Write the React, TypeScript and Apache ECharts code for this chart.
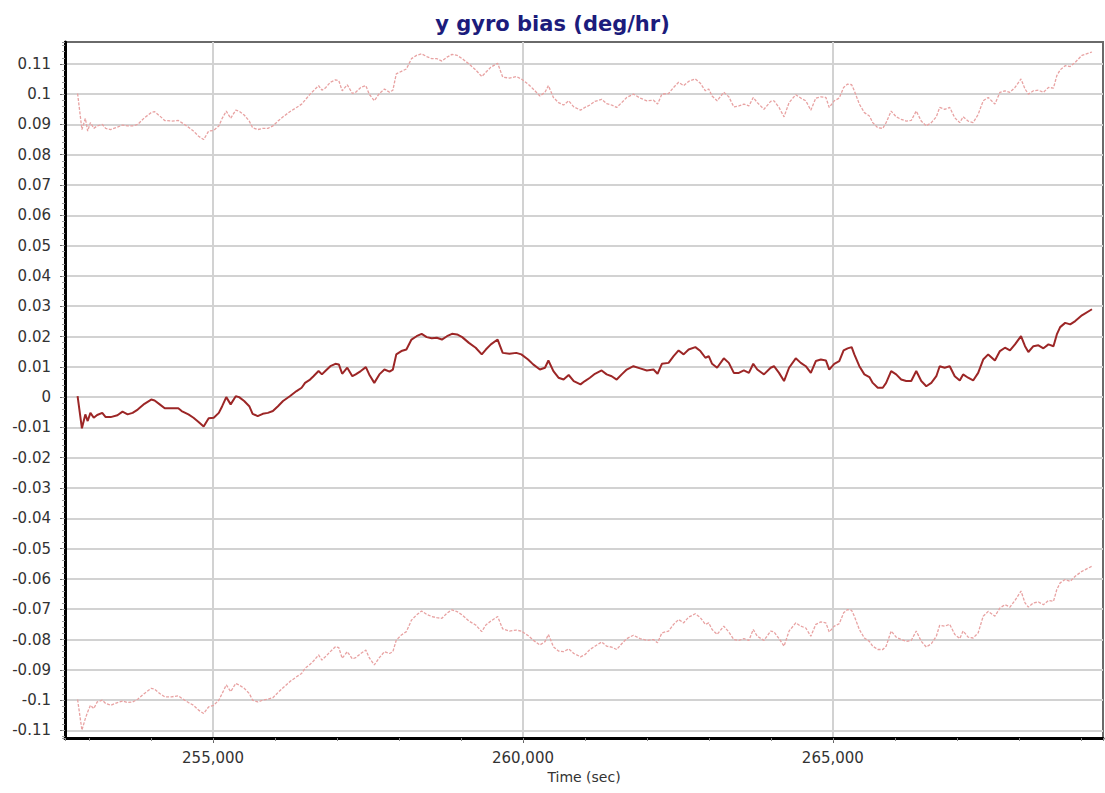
import React, { useEffect, useRef } from "react";
import * as echarts from "echarts";

const timeSec = [
  252814, 252884, 252939, 252977, 253021, 253075, 253130, 253212, 253267, 253348,
  253457, 253539, 253621, 253702, 253784, 253893, 254002, 254057, 254139, 254220,
  254329, 254439, 254493, 254602, 254684, 254766, 254848, 254929, 255011, 255093,
  255147, 255213, 255284, 255366, 255420, 255502, 255584, 255638, 255720, 255802,
  255884, 255965, 256047, 256129, 256238, 256347, 256429, 256484, 256565, 256620,
  256702, 256756, 256811, 256892, 256974, 257029, 257083, 257165, 257247, 257301,
  257383, 257465, 257519, 257601, 257683, 257765, 257847, 257901, 257956, 258038,
  258119, 258201, 258283, 258365, 258447, 258528, 258610, 258692, 258774, 258855,
  258937, 259019, 259128, 259237, 259335, 259401, 259482, 259591, 259673, 259782,
  259892, 259973, 260082, 260164, 260273, 260355, 260410, 260491, 260573, 260655,
  260737, 260819, 260928,
  260999, 261080, 261161, 261269, 261350, 261431, 261512, 261593, 261674, 261782,
  261890, 261998, 262106, 262171, 262241, 262349, 262430, 262511, 262592, 262673,
  262781, 262862, 262943, 262997, 263051, 263132, 263240, 263321, 263402, 263483,
  263564, 263645, 263715, 263780, 263888, 263996, 264050, 264131, 264212, 264293,
  264401, 264482, 264563, 264644, 264725, 264806, 264887, 264941, 265022, 265103,
  265173, 265238, 265303, 265346, 265427, 265508, 265589, 265643, 265724, 265805,
  265859, 265940, 266021, 266102, 266183, 266264, 266345, 266426, 266507, 266588,
  266669, 266723, 266804, 266885, 266966, 267047, 267101, 267182, 267263, 267344,
  267425, 267506, 267614, 267695, 267776, 267857, 267938, 268035, 268100, 268154,
  268235, 268316, 268397, 268478, 268559, 268613, 268667, 268748, 268829, 268910,
  269018, 269180,
];

const biasEstimate = [
  0.0003, -0.0103, -0.0057, -0.0079, -0.0052, -0.0068, -0.0059, -0.0052, -0.0066, -0.0066,
  -0.006, -0.0048, -0.0057, -0.0052, -0.0041, -0.0022, -0.0008, -0.0011, -0.0024, -0.0037,
  -0.0037, -0.0037, -0.0046, -0.0057, -0.0068, -0.0082, -0.0097, -0.007, -0.0068, -0.0052,
  -0.003, 0.0, -0.0024, 0.0003, 0.0, -0.0013, -0.003, -0.0055, -0.0063, -0.0055,
  -0.0052, -0.0046, -0.003, -0.0013, 0.0003, 0.002, 0.0031, 0.0047, 0.0058, 0.0069,
  0.0086, 0.0075, 0.0086, 0.0102, 0.011, 0.0108, 0.0077, 0.0097, 0.0069, 0.0075,
  0.0086, 0.0099, 0.0075, 0.0047, 0.0075, 0.0091, 0.0084, 0.0091, 0.0141, 0.0152,
  0.0157, 0.019, 0.0201, 0.0209, 0.0198, 0.0194, 0.0196, 0.019, 0.0201, 0.0209,
  0.0207, 0.0198, 0.0179, 0.0163, 0.0141, 0.0157, 0.0174, 0.019, 0.0146, 0.0143,
  0.0146, 0.0141, 0.0124, 0.0108, 0.0091, 0.0097, 0.0121, 0.0086, 0.0064, 0.0058,
  0.0073, 0.0053, 0.0042,
  0.0053, 0.0064, 0.0077, 0.0088, 0.0075, 0.0069, 0.0058, 0.0075, 0.0091, 0.0102,
  0.0095, 0.0088, 0.0091, 0.0077, 0.011, 0.0113, 0.0135, 0.0154, 0.0141, 0.0157,
  0.0165, 0.0152, 0.013, 0.0135, 0.011, 0.0097, 0.0128, 0.0113, 0.008, 0.008,
  0.0088, 0.008, 0.011, 0.0091, 0.0075, 0.0097, 0.0102, 0.008, 0.0053, 0.0097,
  0.0128, 0.0113, 0.0102, 0.008, 0.0119, 0.0124, 0.0121, 0.0091, 0.011, 0.0119,
  0.0154, 0.0161, 0.0165, 0.0141, 0.0102, 0.0075, 0.0066, 0.0047, 0.0031, 0.0031,
  0.0047, 0.0086, 0.0075, 0.0058, 0.0053, 0.0053, 0.0086, 0.0053, 0.0036, 0.0047,
  0.0069, 0.0102, 0.0097, 0.0102, 0.0069, 0.0055, 0.0075, 0.0064, 0.0055, 0.008,
  0.0124, 0.0141, 0.0121, 0.0152, 0.0163, 0.0154, 0.0174, 0.0201, 0.0168, 0.0149,
  0.0168, 0.0171, 0.0161, 0.0174, 0.0168, 0.0207, 0.0231, 0.0245, 0.024, 0.0251,
  0.027, 0.029,
];

const upperBound = [
  0.1002, 0.0883, 0.092, 0.0878, 0.0906, 0.0887, 0.0895, 0.09, 0.0887, 0.0883,
  0.0891, 0.0898, 0.0895, 0.0895, 0.09, 0.0922, 0.0939, 0.0942, 0.0928, 0.0913,
  0.0911, 0.0913, 0.0906, 0.0891, 0.0878, 0.0861, 0.085, 0.0878, 0.088, 0.0895,
  0.092, 0.0944, 0.092, 0.0947, 0.0944, 0.0931, 0.0911, 0.0889, 0.0883, 0.0887,
  0.0887, 0.0895, 0.0911, 0.0925, 0.0942, 0.0956, 0.0967, 0.098, 0.1, 0.1011,
  0.1028, 0.1013, 0.102, 0.1039, 0.1047, 0.1044, 0.1011, 0.1031, 0.1002, 0.1006,
  0.1022, 0.1028, 0.1, 0.0978, 0.1002, 0.1017, 0.1006, 0.1013, 0.1067, 0.1075,
  0.1083, 0.1117, 0.1128, 0.1133, 0.1124, 0.1117, 0.1117, 0.1109, 0.1122, 0.1131,
  0.1128, 0.1117, 0.11, 0.108, 0.1058, 0.1072, 0.1089, 0.1102, 0.1056, 0.1053,
  0.1058, 0.105, 0.1033, 0.1017, 0.0994, 0.1006, 0.1028, 0.0989, 0.0972, 0.0964,
  0.0978, 0.0958, 0.0947,
  0.0956, 0.0964, 0.0976, 0.0983, 0.0969, 0.0964, 0.0956, 0.0972, 0.0989, 0.1,
  0.0987, 0.0978, 0.098, 0.0967, 0.1, 0.1002, 0.1022, 0.1039, 0.1028, 0.1042,
  0.105, 0.1036, 0.1011, 0.1017, 0.0994, 0.0978, 0.1006, 0.0991, 0.0958, 0.0961,
  0.0967, 0.0961, 0.0989, 0.0972, 0.095, 0.0976, 0.0978, 0.0956, 0.0925, 0.0972,
  0.0998, 0.0987, 0.0978, 0.0947, 0.0987, 0.0991, 0.0989, 0.0956, 0.0978, 0.0987,
  0.1022, 0.1033, 0.1031, 0.1011, 0.0967, 0.0939, 0.0928, 0.0906, 0.0889, 0.0887,
  0.0906, 0.0944, 0.0925, 0.0917, 0.0911, 0.0913, 0.0944, 0.0911, 0.0895, 0.0906,
  0.0925, 0.0956, 0.095, 0.0956, 0.0922, 0.0906, 0.0925, 0.0911, 0.0906, 0.0933,
  0.0978, 0.0989, 0.0967, 0.1006, 0.1011, 0.1006, 0.1022, 0.105, 0.1017, 0.1,
  0.1011, 0.1013, 0.1006, 0.1022, 0.102, 0.1061, 0.108, 0.1094, 0.1091, 0.1105,
  0.1128, 0.1139,
];

const lowerBound = [
  -0.0998, -0.1099, -0.1061, -0.1039, -0.1017, -0.1028, -0.1006, -0.1, -0.1011, -0.1017,
  -0.1008, -0.1003, -0.1008, -0.1006, -0.0997, -0.0978, -0.0961, -0.0964, -0.0978, -0.0989,
  -0.0989, -0.0986, -0.0994, -0.1008, -0.1017, -0.1033, -0.1044, -0.1022, -0.1017, -0.1,
  -0.0978, -0.095, -0.0972, -0.0945, -0.095, -0.0961, -0.0978, -0.1, -0.1006, -0.1,
  -0.0997, -0.0992, -0.0975, -0.0959, -0.0939, -0.0923, -0.0912, -0.0895, -0.0882, -0.0871,
  -0.0851, -0.0868, -0.0857, -0.084, -0.0824, -0.0827, -0.0862, -0.084, -0.0864, -0.086,
  -0.0846, -0.0835, -0.086, -0.0884, -0.086, -0.084, -0.0846, -0.084, -0.0802, -0.0785,
  -0.0774, -0.0736, -0.0719, -0.0706, -0.0717, -0.0724, -0.0728, -0.073, -0.0713, -0.0702,
  -0.0708, -0.0719, -0.0739, -0.0752, -0.0774, -0.0752, -0.0739, -0.0724, -0.0765, -0.0772,
  -0.0769, -0.0772, -0.0787, -0.0802, -0.0818, -0.0807, -0.0783, -0.0824, -0.0838, -0.084,
  -0.0831, -0.0846, -0.0857,
  -0.085, -0.0833, -0.0822, -0.0808, -0.0822, -0.0825, -0.0833, -0.0814, -0.0797, -0.0786,
  -0.0797, -0.0803, -0.08, -0.0811, -0.0778, -0.0772, -0.075, -0.0734, -0.0745, -0.0726,
  -0.0715, -0.0728, -0.075, -0.0745, -0.0767, -0.0783, -0.0756, -0.0775, -0.08, -0.0803,
  -0.0797, -0.0803, -0.0767, -0.0789, -0.0803, -0.0772, -0.0775, -0.0797, -0.0822, -0.0772,
  -0.0745, -0.0756, -0.0762, -0.0789, -0.075, -0.0742, -0.0745, -0.0775, -0.0756, -0.0748,
  -0.0712, -0.0701, -0.0704, -0.0723, -0.0767, -0.0795, -0.0806, -0.0822, -0.0833, -0.0833,
  -0.0822, -0.0772, -0.0792, -0.08, -0.0806, -0.0803, -0.0772, -0.0806, -0.0825, -0.0814,
  -0.0789, -0.0753, -0.0756, -0.075, -0.0783, -0.0797, -0.0772, -0.0792, -0.0795, -0.0778,
  -0.0723, -0.0707, -0.0723, -0.0696, -0.0685, -0.0693, -0.0671, -0.064, -0.0679, -0.0693,
  -0.0679, -0.0676, -0.0685, -0.0671, -0.0674, -0.0635, -0.0613, -0.0602, -0.0608, -0.0591,
  -0.0575, -0.0558,
];

const X_MIN = 252611;
const X_MAX = 269358;
const Y_MIN = -0.1125;
const Y_MAX = 0.1172;

const FONT = "DejaVu Sans";

export default function App() {
  const ref = useRef<HTMLDivElement>(null);

  useEffect(() => {
    if (!ref.current) return;
    const chart = echarts.init(ref.current, null, { renderer: "svg" });
    const toPairs = (ys: number[]) => timeSec.map((t, i) => [t, ys[i]]);

    chart.setOption({
      animation: false,
      backgroundColor: "#ffffff",
      title: {
        text: "y gyro bias (deg/hr)",
        left: "center",
        top: 8,
        textStyle: {
          fontFamily: FONT,
          fontWeight: "bold",
          fontSize: 21,
          color: "#1c1c7c",
        },
      },
      grid: {
        left: 65,
        right: 2,
        top: 42,
        bottom: 55,
        show: true,
        borderColor: "#6a6a6a",
        borderWidth: 2,
        backgroundColor: "#ffffff",
      },
      xAxis: [
        {
          type: "value",
          min: X_MIN,
          max: X_MAX,
          splitNumber: 3,
          position: "bottom",
          axisLine: { show: true, onZero: false, lineStyle: { color: "#000", width: 3 } },
          axisTick: { show: true, length: 5, lineStyle: { color: "#666", width: 1 } },
          axisLabel: {
            showMinLabel: false,
            showMaxLabel: false,
            fontFamily: FONT,
            fontSize: 15,
            color: "#333",
            margin: 12,
            formatter: (v: number) => Math.round(v).toLocaleString("en-US"),
          },
          splitLine: {
            show: true,
            showMinLine: false,
            showMaxLine: false,
            lineStyle: { color: "#d2d2d2", width: 2 },
          },
          name: "Time (sec)",
          nameLocation: "middle",
          nameGap: 31,
          nameTextStyle: { fontFamily: FONT, fontSize: 14, color: "#333" },
        },
        {
          type: "value",
          min: X_MIN,
          max: X_MAX,
          splitNumber: 16,
          position: "bottom",
          axisLine: { show: false, onZero: false },
          axisTick: { show: true, length: 3, lineStyle: { color: "#888", width: 1 } },
          axisLabel: { show: false },
          splitLine: { show: false },
        },
      ],
      yAxis: [
        {
          type: "value",
          min: Y_MIN,
          max: Y_MAX,
          splitNumber: 23,
          axisLine: { show: true, onZero: false, lineStyle: { color: "#000", width: 3 } },
          axisTick: { show: true, length: 5, lineStyle: { color: "#666", width: 1 } },
          axisLabel: {
            showMinLabel: false,
            showMaxLabel: false,
            fontFamily: FONT,
            fontSize: 15,
            color: "#333",
            margin: 14,
          },
          splitLine: {
            show: true,
            showMinLine: false,
            showMaxLine: false,
            lineStyle: { color: "#d2d2d2", width: 2 },
          },
        },
        {
          type: "value",
          min: Y_MIN,
          max: Y_MAX,
          splitNumber: 115,
          position: "left",
          axisLine: { show: false, onZero: false },
          axisTick: { show: true, length: 3, lineStyle: { color: "#999", width: 1 } },
          axisLabel: { show: false },
          splitLine: { show: false },
        },
      ],
      series: [
        {
          name: "lower",
          type: "line",
          data: toPairs(lowerBound),
          showSymbol: false,
          lineStyle: { color: "#e8a2a2", width: 1.3, type: [3, 1.5] },
          z: 2,
        },
        {
          name: "upper",
          type: "line",
          data: toPairs(upperBound),
          showSymbol: false,
          lineStyle: { color: "#e8a2a2", width: 1.3, type: [3, 1.5] },
          z: 2,
        },
        {
          name: "estimate",
          type: "line",
          data: toPairs(biasEstimate),
          showSymbol: false,
          lineStyle: { color: "#9c2626", width: 2 },
          z: 3,
        },
      ],
    });

    return () => chart.dispose();
  }, []);

  return (
    <div
      ref={ref}
      style={{
        position: "fixed",
        left: 0,
        top: 0,
        width: 1105,
        height: 793,
        background: "#fff",
      }}
    />
  );
}
